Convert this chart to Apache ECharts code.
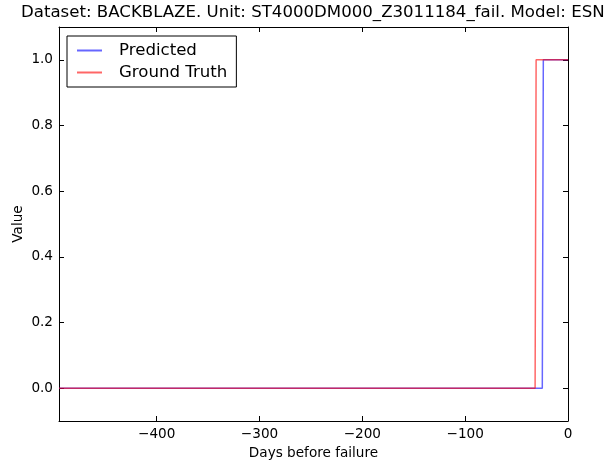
<!DOCTYPE html>
<html>
<head>
<meta charset="utf-8">
<script src="https://cdn.jsdelivr.net/npm/echarts@6/dist/echarts.min.js"></script>
<style>
  html, body { margin: 0; padding: 0; background: #fff; }
  #chart { width: 605px; height: 465px; }
</style>
</head>
<body>
<div id="chart"></div>
<script>
// Step series as [day, value] breakpoints
const predicted = [[-495, 0], [-25, 0], [-24, 1], [0, 1]];
const groundTruth = [[-495, 0], [-32, 0], [-31, 1], [0, 1]];
const xTicks = [-400, -300, -200, -100, 0];
const yTicks = [0, 0.2, 0.4, 0.6, 0.8, 1.0];
const xRange = [-495, 0];
const yRange = [-0.1, 1.1];

const FONT = 'DejaVu Sans';
const minus = v => (v < 0 ? '\u2212' + Math.abs(v) : String(v));

const axisLine = { show: true, onZero: false, lineStyle: { color: '#000', width: 1 } };
const tick = (vals) => ({ show: true, inside: true, length: 5, customValues: vals, lineStyle: { color: '#000', width: 1 } });

const chart = echarts.init(document.getElementById('chart'), null, { renderer: 'canvas' });
chart.setOption({
  animation: false,
  backgroundColor: '#fff',
  title: {
    text: 'Dataset: BACKBLAZE. Unit: ST4000DM000_Z3011184_fail. Model: ESN',
    left: 21, top: 4, padding: 0,
    textStyle: { fontFamily: FONT, fontSize: 16.6, fontWeight: 'normal', color: '#000' }
  },
  grid: { left: 59, right: 37, top: 27, bottom: 44, containLabel: false },
  legend: {
    left: 67, top: 36, orient: 'vertical',
    data: ['Predicted', 'Ground Truth'],
    itemWidth: 25, itemHeight: 2, itemGap: 5,
    icon: 'rect',
    padding: [6, 9, 6, 10],
    borderColor: '#000', borderWidth: 1, backgroundColor: '#fff',
    textStyle: { fontFamily: FONT, fontSize: 16.6, color: '#000', padding: [0, 0, 0, 12] }
  },
  xAxis: [{
    type: 'value', min: xRange[0], max: xRange[1], position: 'bottom',
    name: 'Days before failure', nameLocation: 'middle', nameGap: 25,
    nameTextStyle: { fontFamily: FONT, fontSize: 13.6, color: '#000' },
    axisLine: axisLine, axisTick: tick(xTicks), splitLine: { show: false },
    axisLabel: { customValues: xTicks, formatter: minus, fontFamily: FONT, fontSize: 13.6, color: '#000', margin: 6 }
  }, {
    type: 'value', min: xRange[0], max: xRange[1], position: 'top',
    axisLine: axisLine, axisTick: tick(xTicks), splitLine: { show: false },
    axisLabel: { show: false }
  }],
  yAxis: [{
    type: 'value', min: yRange[0], max: yRange[1], position: 'left',
    name: 'Value', nameLocation: 'middle', nameGap: 34, nameRotate: 90,
    nameMoveOverlap: false,
    nameTextStyle: { fontFamily: FONT, fontSize: 13.6, color: '#000' },
    axisLine: axisLine, axisTick: tick(yTicks), splitLine: { show: false },
    axisLabel: { customValues: yTicks, formatter: v => v.toFixed(1), fontFamily: FONT, fontSize: 13.6, color: '#000', margin: 6 }
  }, {
    type: 'value', min: yRange[0], max: yRange[1], position: 'right',
    axisLine: axisLine, axisTick: tick(yTicks), splitLine: { show: false },
    axisLabel: { show: false }
  }],
  series: [{
    name: 'Predicted', type: 'line', data: predicted, symbol: 'none',
    xAxisIndex: 0, yAxisIndex: 0,
    color: 'rgba(0,0,255,0.6)',
    lineStyle: { color: 'rgba(0,0,255,0.6)', width: 1.5 }
  }, {
    name: 'Ground Truth', type: 'line', data: groundTruth, symbol: 'none',
    xAxisIndex: 0, yAxisIndex: 0,
    color: 'rgba(255,0,0,0.6)',
    lineStyle: { color: 'rgba(255,0,0,0.6)', width: 1.5 }
  }]
});
</script>
</body>
</html>
